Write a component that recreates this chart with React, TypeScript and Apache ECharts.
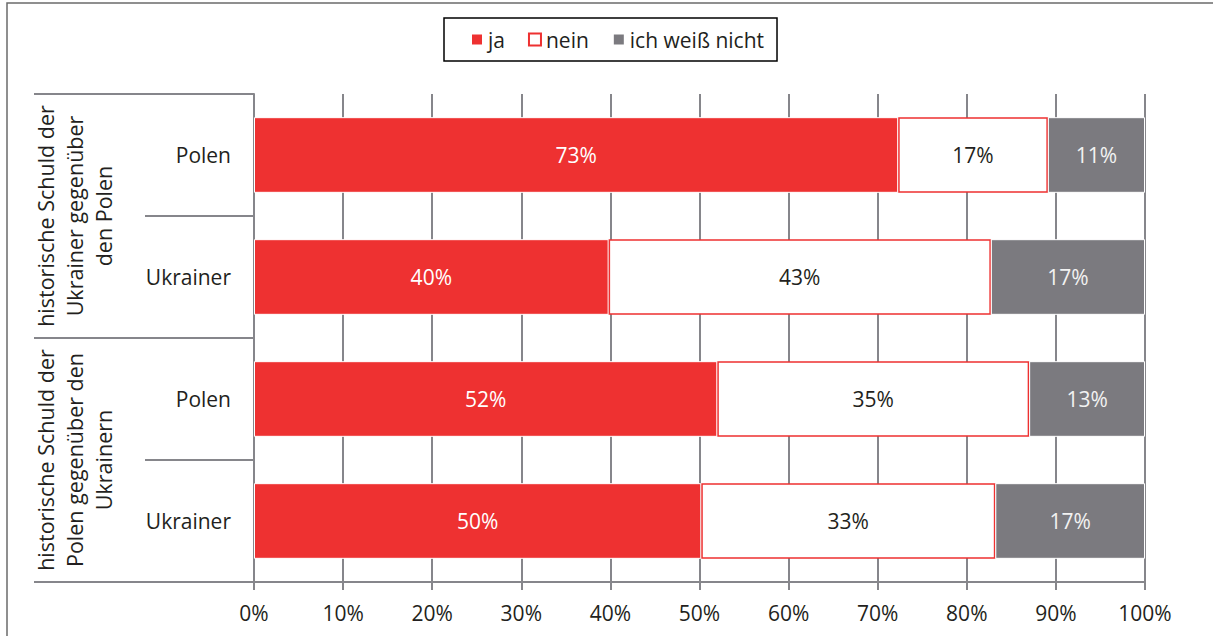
import React, { useEffect, useRef } from "react";
import * as echarts from "echarts";

const categories = ["Polen", "Ukrainer", "Polen", "Ukrainer"];
const groups = [
  "historische Schuld der\nUkrainer gegenüber\nden Polen",
  "historische Schuld der\nPolen gegenüber den\nUkrainern",
];
const seriesNames = ["ja", "nein", "ich weiß nicht"];
const jaValues = [72.3, 39.8, 52.0, 50.2];
const neinValues = [16.8, 42.9, 35.0, 33.0];
const weissValues = [10.9, 17.3, 13.0, 16.8];
const jaLabels = ["73%", "40%", "52%", "50%"];
const neinLabels = ["17%", "43%", "35%", "33%"];
const weissLabels = ["11%", "17%", "13%", "17%"];

const FONT = "Open Sans";
const RED = "#EE3131";
const GRAY = "#7B7A7F";
const LINE = "#86868B";
const TEXT = "#231F20";

export default function App() {
  const ref = useRef<HTMLDivElement>(null);
  useEffect(() => {
    if (!ref.current) return;
    const chart = echarts.init(ref.current, null, { renderer: "svg" });
    const mkLabel = (labels: string[], color: string) => ({
      show: true,
      position: "inside",
      fontFamily: FONT,
      fontSize: 21,
      color,
      formatter: (p: any) => labels[p.dataIndex],
    });
    chart.setOption({
      animation: false,
      backgroundColor: "#fff",
      textStyle: { fontFamily: FONT },
      graphic: [
        {
          type: "rect",
          shape: { x: 7, y: 3, width: 1400, height: 800 },
          style: { fill: "none", stroke: "#6b6b6b", lineWidth: 1.5 },
          silent: true,
        },
      ],
      legend: {
        top: 18,
        left: 444,
        data: seriesNames,
        icon: "rect",
        itemWidth: 12,
        itemHeight: 12,
        itemGap: 23,
        borderColor: "#000",
        borderWidth: 1.5,
        padding: [11, 13, 11, 26],
        textStyle: { fontFamily: FONT, fontSize: 21, color: TEXT },
      },
      grid: { left: 254, right: 68, top: 94, bottom: 54, containLabel: false },
      xAxis: {
        type: "value",
        min: 0,
        max: 100,
        interval: 10,
        axisLine: { show: true, lineStyle: { color: LINE, width: 2 } },
        axisTick: { show: true, length: 8, lineStyle: { color: LINE, width: 2 } },
        splitLine: { show: true, lineStyle: { color: LINE, width: 2 } },
        axisLabel: {
          formatter: "{value}%",
          fontFamily: FONT,
          fontSize: 21,
          color: TEXT,
          margin: 20,
        },
      },
      yAxis: [
        {
          type: "category",
          inverse: true,
          position: "left",
          data: categories,
          axisLine: { show: true, lineStyle: { color: LINE, width: 2 } },
          axisTick: { show: true, length: 109, lineStyle: { color: LINE, width: 2 } },
          axisLabel: {
            fontFamily: FONT,
            fontSize: 21,
            color: TEXT,
            margin: 23,
          },
        },
        {
          type: "category",
          inverse: true,
          position: "left",
          offset: 0,
          data: groups,
          axisLine: { show: false },
          axisTick: { show: true, length: 220, lineStyle: { color: LINE, width: 2 } },
          axisLabel: {
            rotate: 90,
            interval: 0,
            margin: 136,
            fontFamily: FONT,
            fontSize: 21.5,
            lineHeight: 29,
            align: "center",
            color: TEXT,
          },
        },
      ],
      series: [
        {
          name: seriesNames[0],
          type: "bar",
          stack: "a",
          barWidth: "62%",
          data: jaValues,
          itemStyle: { color: RED, borderColor: "#fff", borderWidth: 1 },
          label: mkLabel(jaLabels, "#fff"),
        },
        {
          name: seriesNames[1],
          type: "bar",
          stack: "a",
          barWidth: "62%",
          data: neinValues,
          itemStyle: { color: "#fff", borderColor: RED, borderWidth: 1.5 },
          label: mkLabel(neinLabels, TEXT),
        },
        {
          name: seriesNames[2],
          type: "bar",
          stack: "a",
          barWidth: "62%",
          data: weissValues,
          itemStyle: { color: GRAY, borderColor: "#fff", borderWidth: 1 },
          label: mkLabel(weissLabels, "#F2F2F2"),
        },
      ],
    });
    return () => chart.dispose();
  }, []);
  return (
    <div
      ref={ref}
      style={{ position: "absolute", left: 0, top: 0, width: 1213, height: 636 }}
    />
  );
}
